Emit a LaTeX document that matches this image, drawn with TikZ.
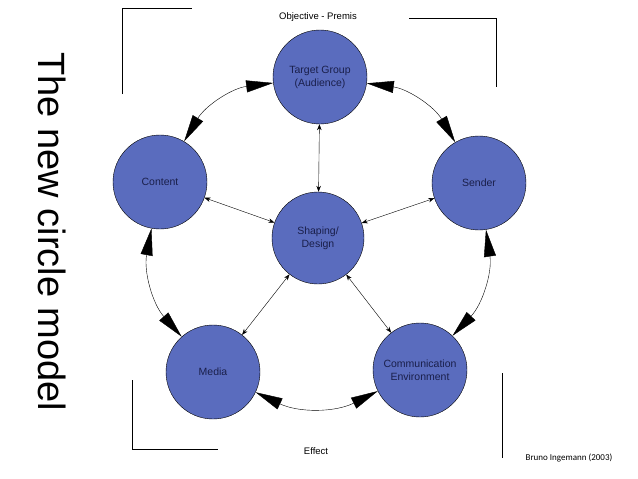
\documentclass[tikz,border=0pt]{standalone}
\usepackage{fontspec}
\setmainfont{Liberation Sans}
\newfontfamily\carl{Carlito}
\usetikzlibrary{arrows.meta}
\definecolor{cfill}{HTML}{5A6CBE}
\definecolor{ctext}{HTML}{1A1F4A}
\begin{document}
\begin{tikzpicture}[x=1pt,y=-1pt,
  circ/.style={circle,draw=black,fill=cfill,minimum size=94pt,inner sep=0pt,align=center,font=\fontsize{10.5}{13}\selectfont,text=ctext},
  big/.style={{Triangle[length=27pt,width=12pt]}-{Triangle[length=27pt,width=12pt]},thin},
  small/.style={{Stealth[length=6pt]}-{Stealth[length=6pt]},thin},
  brk/.style={thin}]
\useasboundingbox (0,0) rectangle (638,479);
\coordinate (a1) at (122,94); \coordinate (a2) at (122,8); \coordinate (a3) at (192,8);
\draw[brk] (a1) -- (a2) -- (a3);
\coordinate (b1) at (409,18); \coordinate (b2) at (496,18); \coordinate (b3) at (496,87);
\draw[brk] (b1) -- (b2) -- (b3);
\coordinate (c1) at (132,380); \coordinate (c2) at (132,449); \coordinate (c3) at (218,449);
\draw[brk] (c1) -- (c2) -- (c3);
\coordinate (d1) at (502,373); \coordinate (d2) at (502,458);
\draw[brk] (d1) -- (d2);
\node[rotate=-90,font=\fontsize{38}{40}\selectfont] (title) at (52,232) {The new circle model};
\node[circ] (tg) at (320,77) {Target Group\\(Audience)};
\node[circ] (co) at (160,182) {Content};
\node[circ] (se) at (479,183) {Sender};
\node[circ,minimum size=92pt] (sh) at (318,238) {Shaping/\\Design};
\node[circ] (me) at (213,372) {Media};
\node[circ] (ce) at (420,370) {Communication\\Environment};
\draw[big] (co) to[bend left=26] (tg);
\draw[big] (tg) to[bend left=26] (se);
\draw[big] (se) to[bend left=26] (ce);
\draw[big] (ce) to[bend left=26] (me);
\draw[big] (me) to[bend left=26] (co);
\draw[small] (sh) -- (tg);
\draw[small] (sh) -- (co);
\draw[small] (sh) -- (se);
\draw[small] (sh) -- (me);
\draw[small] (sh) -- (ce);
\node[font=\fontsize{9.5}{11}\selectfont] (obj) at (318,17) {Objective - Premis};
\node[font=\fontsize{9.5}{11}\selectfont] (eff) at (316,451) {Effect};
\node[font=\carl\fontsize{9}{11}\selectfont] (bru) at (569,458) {Bruno Ingemann (2003)};
\end{tikzpicture}
\end{document}
